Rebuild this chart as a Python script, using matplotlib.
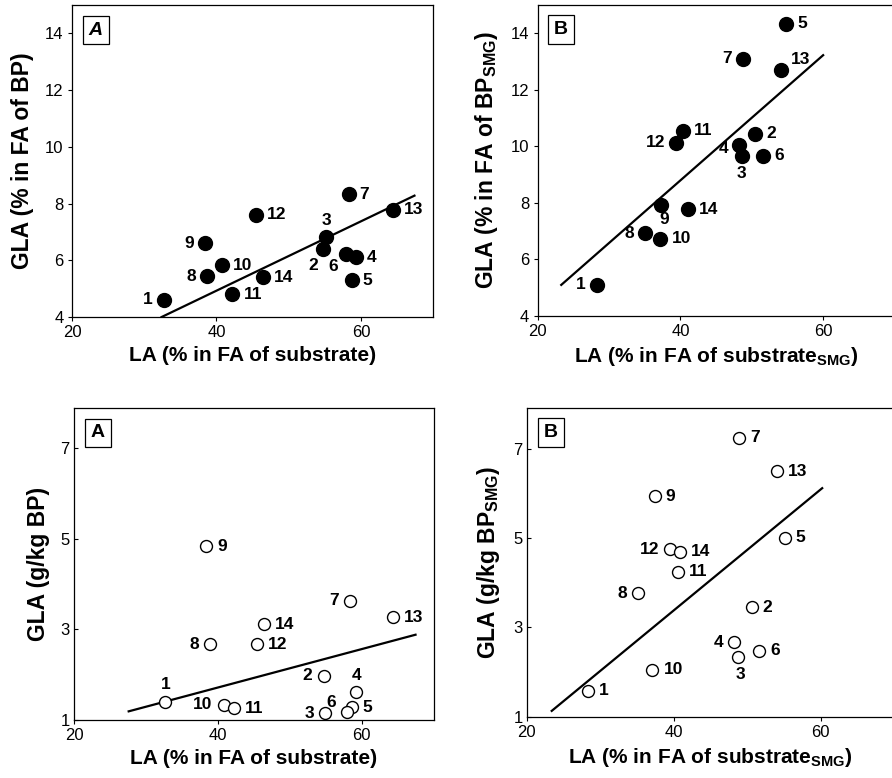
import numpy as np
import matplotlib
matplotlib.use("Agg")
import matplotlib.pyplot as plt

plt.rcParams['font.family'] = ['Liberation Sans', 'DejaVu Sans']
plt.rcParams['mathtext.fontset'] = 'custom'
plt.rcParams['mathtext.rm'] = 'Liberation Sans'
plt.rcParams['mathtext.bf'] = 'Liberation Sans:bold'

ids = [str(i) for i in range(1, 15)]

# top left: GLA % vs LA % (filled)
la_a = [32.7, 54.7, 55.1, 59.3, 58.7, 57.9, 58.3, 38.7, 38.4, 40.8, 42.2, 45.4, 64.4, 46.4]
gla_pct_a = [4.61, 6.40, 6.82, 6.11, 5.29, 6.22, 8.33, 5.44, 6.61, 5.82, 4.80, 7.60, 7.78, 5.41]
fit_x_pct_a = [32.4, 67.4]
fit_y_pct_a = [4.0, 8.28]

# top right: GLA % vs LA % (SMG, filled)
la_b = [28.3, 50.5, 48.6, 48.2, 54.8, 51.6, 48.7, 35.1, 37.3, 37.2, 40.4, 39.4, 54.1, 41.1]
gla_pct_b = [5.10, 10.44, 9.65, 10.05, 14.33, 9.66, 13.10, 6.93, 7.91, 6.74, 10.55, 10.12, 12.71, 7.78]
fit_x_pct_b = [23.3, 60.0]
fit_y_pct_b = [5.10, 13.22]

# bottom left: GLA g/kg vs LA % (open)
la_c = [32.7, 54.7, 54.9, 59.2, 58.6, 58.0, 58.4, 38.9, 38.4, 40.8, 42.2, 45.4, 64.3, 46.4]
gla_gkg_a = [1.39, 1.98, 1.15, 1.61, 1.28, 1.18, 3.63, 2.67, 4.83, 1.34, 1.26, 2.67, 3.26, 3.11]
fit_x_gkg_a = [27.6, 67.5]
fit_y_gkg_a = [1.19, 2.88]

# bottom right: GLA g/kg vs LA % (SMG, open)
la_d = [28.3, 50.6, 48.8, 48.2, 55.1, 51.6, 48.9, 35.1, 37.4, 37.1, 40.6, 39.5, 54.1, 40.9]
gla_gkg_b = [1.58, 3.45, 2.33, 2.67, 5.01, 2.48, 7.25, 3.77, 5.94, 2.05, 4.25, 4.75, 6.50, 4.70]
fit_x_gkg_b = [23.4, 60.2]
fit_y_gkg_b = [1.13, 6.12]

R, L = (11, 0, 'left'), (-11, 0, 'right')

def U(dx=0, dy=17):
    return (dx, dy, 'center')

offs_a = [L, (-9, -17, 'center'), U(1, 17), R, R, (-13, -12, 'center'), R, L, L, R, R, R, R, R]
offs_b = [L, R, U(0, -17), (-11, -4, 'right'), R, R, L, L, U(3, -14), R, R, L, (10, 10, 'left'), R]
offs_c = [U(0, 18), L, L, U(1, 17), R, (-11, 9, 'right'), L, L, R, L, R, R, R, R]
offs_d = [R, R, U(2, -17), L, R, R, R, L, R, R, R, L, R, R]

fig = plt.figure(figsize=(8.92, 7.78), dpi=100)


def panel(rect, x, y, fx, fy, offs, filled, ylim, yticks, ylabel, xlabel, tag, italic, ytickdir):
    ax = fig.add_axes(rect)
    ax.plot(fx, fy, color='black', lw=1.6, zorder=2)
    if filled:
        ax.plot(x, y, 'o', ms=10, color='black', zorder=3, clip_on=False)
    else:
        ax.plot(x, y, 'o', ms=8.6, mfc='white', mec='black', mew=1.0, zorder=3, clip_on=False)
    for xi, yi, lab, (dx, dy, ha) in zip(x, y, ids, offs):
        ax.annotate(lab, (xi, yi), xytext=(dx, dy), textcoords='offset pixels',
                    ha=ha, va='center', fontsize=12.5, fontweight='bold', zorder=4)
    ax.set_xlim(20, 70)
    ax.set_ylim(*ylim)
    ax.set_xticks([20, 40, 60])
    ax.set_yticks(yticks)
    ax.tick_params(axis='x', direction='out', length=3, width=0.8, labelsize=12, pad=3)
    ax.tick_params(axis='y', direction=ytickdir, length=3, width=0.8, labelsize=12, pad=3)
    for s in ax.spines.values():
        s.set_linewidth(0.9)
    ax.set_ylabel(ylabel, fontsize=16.5, fontweight='bold', labelpad=8)
    ax.set_xlabel(xlabel, fontsize=15, fontweight='bold', labelpad=4)
    ax.text(0.066, 0.92, tag, transform=ax.transAxes, ha='center', va='center',
            fontsize=14, fontweight='bold', style='italic' if italic else 'normal',
            bbox=dict(boxstyle='square,pad=0.3', fc='white', ec='black', lw=0.9))
    return ax


panel([0.0807, 0.5925, 0.405, 0.401], la_a, gla_pct_a, fit_x_pct_a, fit_y_pct_a, offs_a, True,
      (4, 15), [4, 6, 8, 10, 12, 14], 'GLA (% in FA of BP)', 'LA (% in FA of substrate)', 'A', True, 'out')
panel([0.6028, 0.5938, 0.40, 0.40], la_b, gla_pct_b, fit_x_pct_b, fit_y_pct_b, offs_b, True,
      (4, 15), [4, 6, 8, 10, 12, 14], r'GLA (% in FA of BP$_{\mathbf{SMG}}$)',
      r'LA (% in FA of substrate$_{\mathbf{SMG}}$)', 'B', False, 'out')
panel([0.083, 0.0746, 0.403, 0.401], la_c, gla_gkg_a, fit_x_gkg_a, fit_y_gkg_a, offs_c, False,
      (1, 7.88), [1, 3, 5, 7], 'GLA (g/kg BP)', 'LA (% in FA of substrate)', 'A', False, 'in')
panel([0.5905, 0.0788, 0.412, 0.397], la_d, gla_gkg_b, fit_x_gkg_b, fit_y_gkg_b, offs_d, False,
      (1, 7.92), [1, 3, 5, 7], r'GLA (g/kg BP$_{\mathbf{SMG}}$)',
      r'LA (% in FA of substrate$_{\mathbf{SMG}}$)', 'B', False, 'in')

fig.savefig('out.png', dpi=100)
plt.close(fig)
